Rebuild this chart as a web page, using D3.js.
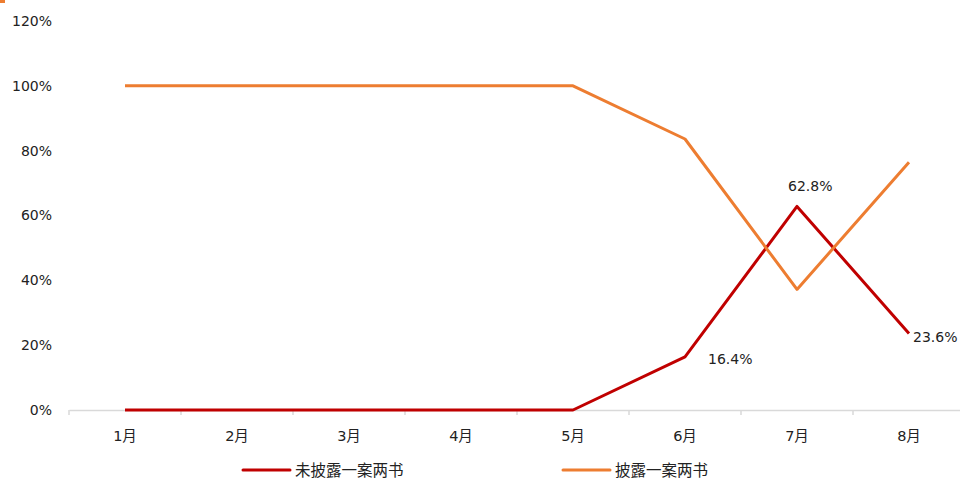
<!DOCTYPE html>
<html lang="zh">
<head>
<meta charset="UTF-8">
<script src="https://d3js.org/d3.v7.min.js"></script>
<style>
    body { margin: 0; background: #fff; }
    svg { display: block; font-family: "DejaVu Sans", "Noto Sans CJK SC", sans-serif; }
    .tick text { font-size: 14px; fill: #222; font-family: "DejaVu Sans", "Noto Sans CJK SC", sans-serif; }
    .lbl { font-size: 14px; fill: #222; }
    .legend text { font-size: 15.5px; fill: #222; font-family: "Noto Sans CJK SC", sans-serif; }
</style>
</head>
<body>
<svg width="960" height="480"></svg>
<script>
const months = ["1月", "2月", "3月", "4月", "5月", "6月", "7月", "8月"];
const undisclosed = [0, 0, 0, 0, 0, 16.4, 62.8, 23.6];
const disclosed = [100, 100, 100, 100, 100, 83.6, 37.2, 76.4];
const yTicks = [0, 20, 40, 60, 80, 100, 120];
const seriesNames = ["未披露一案两书", "披露一案两书"];
const seriesColors = ["#C00000", "#ED7D31"];

const svg = d3.select("svg");
const x = d3.scaleBand().domain(months).range([69, 965]);
const y = d3.scaleLinear().domain([0, 120]).range([410, 21]);

// corner mark
svg.append("rect").attr("x", 0).attr("y", 0).attr("width", 5).attr("height", 3).attr("fill", "#ED7D31");

// y axis labels
const yAxis = svg.append("g")
    .attr("transform", "translate(62,0)")
    .call(d3.axisLeft(y).tickValues(yTicks).tickFormat(d => d + "%").tickSize(0).tickPadding(10));
yAxis.select(".domain").remove();

// x axis
const xAxis = svg.append("g")
    .attr("transform", "translate(0,410)")
    .call(d3.axisBottom(x).tickSize(0).tickPadding(21));
xAxis.select(".domain").attr("stroke", "#d9d9d9").attr("stroke-width", 1.5);
xAxis.selectAll(".tick text").style("font-size", "14.5px");
const bounds = months.map(m => x(m)).concat([x.range()[1]]);
xAxis.selectAll(".sep").data(bounds).join("line")
    .attr("x1", d => d).attr("x2", d => d)
    .attr("y1", 0).attr("y2", 5)
    .attr("stroke", "#d9d9d9").attr("stroke-width", 1.5);

const cx = m => x(m) + x.bandwidth() / 2;
const line = d3.line().x((d, i) => cx(months[i])).y(d => y(d));

[undisclosed, disclosed].forEach((s, k) => {
    svg.append("path")
        .datum(s)
        .attr("fill", "none")
        .attr("stroke", seriesColors[k])
        .attr("stroke-width", 3)
        .attr("stroke-linejoin", "round")
        .attr("d", line);
});

// data labels
const labels = [
    { i: 5, dx: 23, dy: 7 },
    { i: 6, dx: -9, dy: -15 },
    { i: 7, dx: 4, dy: 9 }
];
labels.forEach(l => {
    svg.append("text")
        .attr("class", "lbl")
        .attr("x", cx(months[l.i]) + l.dx)
        .attr("y", y(undisclosed[l.i]) + l.dy)
        .text(undisclosed[l.i].toFixed(1) + "%");
});

// legend
const legend = svg.append("g").attr("class", "legend");
const legendX = [243, 563];
seriesNames.forEach((name, k) => {
    legend.append("line")
        .attr("x1", legendX[k]).attr("x2", legendX[k] + 47)
        .attr("y1", 470).attr("y2", 470)
        .attr("stroke", seriesColors[k]).attr("stroke-width", 3).attr("stroke-linecap", "round");
    legend.append("text")
        .attr("x", legendX[k] + 52).attr("y", 475.5)
        .text(name);
});
</script>
</body>
</html>
